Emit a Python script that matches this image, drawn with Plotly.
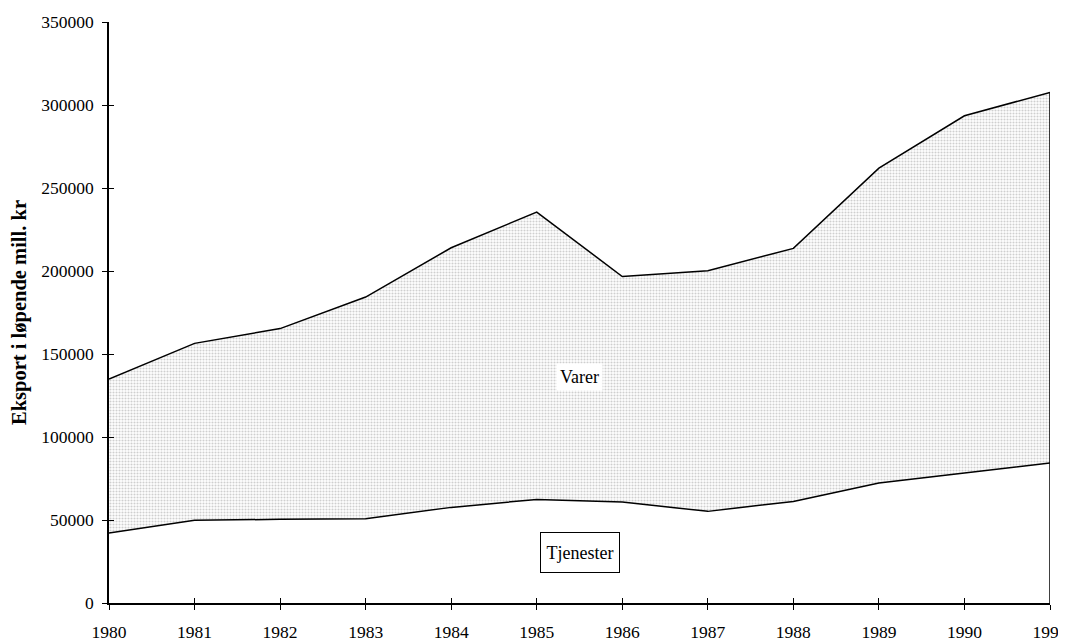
import plotly.graph_objects as go

years = [1980, 1981, 1982, 1983, 1984, 1985, 1986, 1987, 1988, 1989, 1990, 1991]
tjenester = [42200, 49800, 50400, 50800, 57600, 62400, 60800, 55200, 61200, 72300, 78300, 84300]
varer = [92700, 106600, 114900, 133500, 156400, 173100, 135900, 145000, 152400, 189700, 215200, 223300]
y_ticks = [0, 50000, 100000, 150000, 200000, 250000, 300000, 350000]

font_name = "Liberation Serif"
total_last = tjenester[-1] + varer[-1]

fig = go.Figure()

fig.add_trace(go.Scatter(x=years, y=tjenester, name="Tjenester", stackgroup="one",
                         mode="lines", line=dict(color="black", width=1.5),
                         fillcolor="white"))
fig.add_trace(go.Scatter(x=years, y=varer, name="Varer", stackgroup="one",
                         mode="lines", line=dict(color="black", width=1.5),
                         fillpattern=dict(shape=".", size=3, solidity=0.4,
                                          fgcolor="#a0a0a0", bgcolor="white")))
# right border of the area
fig.add_trace(go.Scatter(x=[years[-1], years[-1]], y=[0, total_last], mode="lines",
                         line=dict(color="black", width=1.5), hoverinfo="skip"))
# dummy trace so the tick overlay axes get drawn
fig.add_trace(go.Scatter(x=[years[0]], y=[0], xaxis="x2", yaxis="y2", mode="markers",
                         marker=dict(opacity=0), hoverinfo="skip"))

fig.add_annotation(x=1985.5, y=136000, text="Varer", showarrow=False,
                   bgcolor="white", borderpad=3,
                   font=dict(family=font_name, size=18, color="black"))
fig.add_annotation(x=1985.5, y=30300, text="Tjenester", showarrow=False,
                   bgcolor="white", bordercolor="black", borderwidth=1, borderpad=0,
                   width=78, height=39,
                   font=dict(family=font_name, size=18, color="black"))

axis_font = dict(family=font_name, size=17.5, color="black")

# page body adds an 8px offset, so the figure is a bit smaller than the window
fig.update_layout(
    width=1058, height=633,
    margin=dict(l=101, r=16, t=14, b=38),
    paper_bgcolor="white", plot_bgcolor="white",
    showlegend=False,
    font=dict(family=font_name, color="black"),
    xaxis=dict(range=[years[0], years[-1]], tickvals=years, ticks="outside", ticklen=5,
               tickcolor="black", showline=True, linecolor="black", linewidth=1.5,
               showgrid=False, zeroline=False, tickfont=axis_font,
               ticklabelstandoff=7, ticklabeloverflow="allow", automargin=False),
    yaxis=dict(range=[0, 350000], tickvals=y_ticks, tickformat="d", ticks="outside",
               ticklen=5, tickcolor="black", showline=True, linecolor="black",
               linewidth=1.5, showgrid=False, zeroline=False, tickfont=axis_font,
               ticklabelstandoff=5, automargin=False,
               title=dict(text="<b>Eksport i løpende mill. kr</b>", standoff=16,
                          font=dict(family=font_name, size=20.5, color="black"))),
    xaxis2=dict(range=[years[0], years[-1]], tickvals=years, ticks="inside", ticklen=5,
                tickcolor="black", showticklabels=False, showgrid=False, zeroline=False,
                overlaying="x", anchor="y"),
    yaxis2=dict(range=[0, 350000], tickvals=y_ticks, ticks="inside", ticklen=5,
                tickcolor="black", showticklabels=False, showgrid=False, zeroline=False,
                overlaying="y", anchor="x"),
)

fig.write_html("out.html")
